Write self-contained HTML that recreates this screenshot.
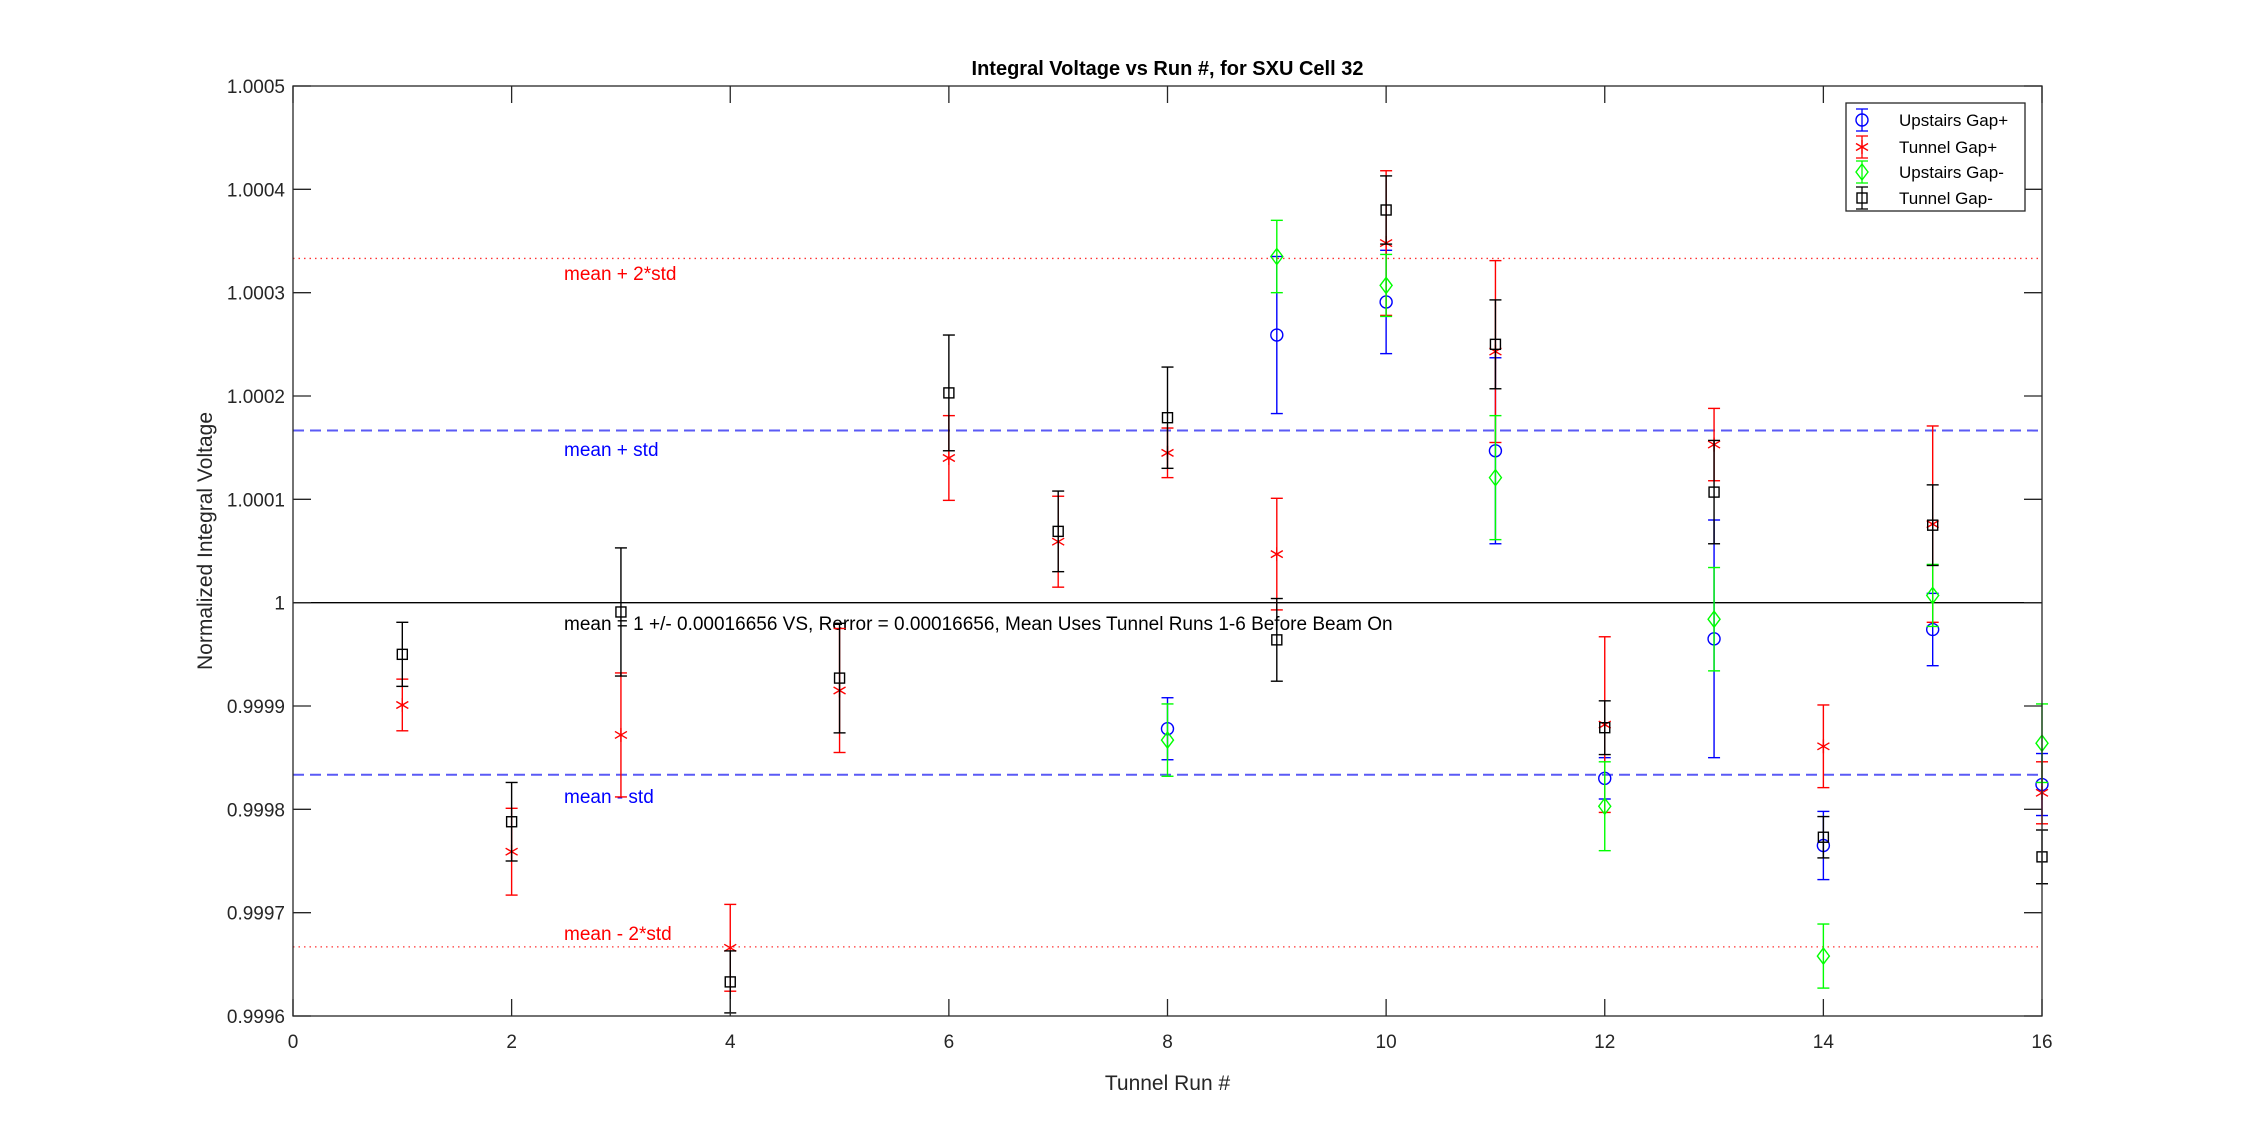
<!DOCTYPE html>
<html><head><meta charset="utf-8"><style>
body{margin:0;background:#fff;}
svg{display:block;font-family:"Liberation Sans",Arial,sans-serif;}
</style></head><body>
<svg id="chart" width="2258" height="1143" viewBox="0 0 2258 1143" xmlns="http://www.w3.org/2000/svg">
<rect width="2258" height="1143" fill="#fff"/>
<g id="grid"></g>
<g id="marks"></g>
<g id="axes"></g>
</svg>
<script>
const runs=[1,2,3,4,5,6,7,8,9,10,11,12,13,14,15,16];
const xTicks=[0,2,4,6,8,10,12,14,16];
const yTicks=[0.9996,0.9997,0.9998,0.9999,1,1.0001,1.0002,1.0003,1.0004,1.0005];
const yTickLabels=["0.9996","0.9997","0.9998","0.9999","1","1.0001","1.0002","1.0003","1.0004","1.0005"];
// values in units of 1e-4 relative to 1
const upPlusX=[8,9,10,11,12,13,14,15,16];
const upPlusV=[-1.22,2.59,2.91,1.47,-1.70,-0.35,-2.35,-0.26,-1.76];
const upPlusE=[0.30,0.76,0.50,0.90,0.20,1.15,0.33,0.35,0.30];
const tunPlusV=[-0.99,-2.41,-1.28,-3.34,-0.85,1.40,0.59,1.45,0.47,3.48,2.43,-1.18,1.53,-1.39,0.76,-1.84];
const tunPlusE=[0.25,0.42,0.60,0.42,0.60,0.41,0.44,0.24,0.54,0.70,0.88,0.85,0.35,0.40,0.95,0.30];
const upMinusX=[8,9,10,11,12,13,14,15,16];
const upMinusV=[-1.33,3.35,3.07,1.21,-1.97,-0.16,-3.42,0.07,-1.36];
const upMinusE=[0.35,0.35,0.30,0.60,0.43,0.50,0.31,0.30,0.38];
const tunMinusV=[-0.50,-2.12,-0.09,-3.67,-0.73,2.03,0.69,1.79,-0.36,3.80,2.50,-1.21,1.07,-2.27,0.75,-2.46];
const tunMinusE=[0.31,0.38,0.62,0.30,0.53,0.56,0.39,0.49,0.40,0.33,0.43,0.26,0.50,0.20,0.39,0.26];
const stdV=1.6656;

const L=293,R=2042,T=86,B=1016;
const X=v=>L+(v-0)/(16-0)*(R-L);
const Y=v=>B-(v-0.9996)/(1.0005-0.9996)*(B-T);
const Yd=d=>Y(1+d*1e-4);
const NS="http://www.w3.org/2000/svg";
function mk(tag,attrs,parent){const e=document.createElementNS(NS,tag);for(const k in attrs)e.setAttribute(k,attrs[k]);parent.appendChild(e);return e;}
const grid=document.getElementById('grid'),marks=document.getElementById('marks'),axes=document.getElementById('axes');

let ln=mk('line',{x1:L,x2:R,y1:Yd(0),y2:Yd(0),stroke:'#000','stroke-width':1.3},grid);

[[1,'mean-plus-std-line'],[-1,'mean-minus-std-line']].forEach(([s,n])=>{
 const l=mk('line',{x1:L,x2:R,y1:Yd(s*stdV),y2:Yd(s*stdV),stroke:'#5a5af5','stroke-width':2,'stroke-dasharray':'11,6'},grid);
 });
[[2,'mean-plus-2std-line'],[-2,'mean-minus-2std-line']].forEach(([s,n])=>{
 const l=mk('line',{x1:L,x2:R,y1:Yd(s*stdV),y2:Yd(s*stdV),stroke:'#f33','stroke-width':1.3,'stroke-dasharray':'1.5,4'},grid);
 });
const labs=[['mean + 2*std','#f00',280,'label-mean-plus-2std'],['mean + std','#00f',456,'label-mean-plus-std'],
 ['mean - std','#00f',803,'label-mean-minus-std'],['mean - 2*std','#f00',940,'label-mean-minus-2std'],
 ['mean = 1 +/- 0.00016656 VS, Rerror = 0.00016656, Mean Uses Tunnel Runs 1-6 Before Beam On','#000',630,'label-mean-summary']];
labs.forEach(([t,c,y,n])=>{const e=mk('text',{x:564,y:y,fill:c,'font-size':19},grid);e.textContent=t;
 });

function marker(type,cx,cy,color,parent){
 const g=mk('g',{stroke:color,fill:'none','stroke-width':1.4},parent);
 if(type==='o')mk('circle',{cx:cx,cy:cy,r:6},g);
 else if(type==='*'){[[0,7],[6,3.5],[6,-3.5]].forEach(([dx,dy])=>mk('line',{x1:cx-dx,y1:cy-dy,x2:cx+dx,y2:cy+dy},g));}
 else if(type==='d')mk('polygon',{points:`${cx},${cy-8} ${cx+6},${cy} ${cx},${cy+8} ${cx-6},${cy}`},g);
 else mk('rect',{x:cx-5,y:cy-5,width:10,height:10},g);
 return g;}
function series(xs,vs,es,type,color,name){
 const g=mk('g',{},marks);
 xs.forEach((x,i)=>{
  const cx=X(x),hi=Yd(vs[i]+es[i]),lo=Yd(vs[i]-es[i]);
  const eb=mk('g',{stroke:color,'stroke-width':1.4},g);
  
  mk('line',{x1:cx,x2:cx,y1:hi,y2:lo},eb);
  mk('line',{x1:cx-6,x2:cx+6,y1:hi,y2:hi},eb);
  mk('line',{x1:cx-6,x2:cx+6,y1:lo,y2:lo},eb);
  const m=marker(type,cx,Yd(vs[i]),color,g);
  
 });}
series(upPlusX,upPlusV,upPlusE,'o','#0000ff','upstairs-gap-plus');
series(runs,tunPlusV,tunPlusE,'*','#ff0000','tunnel-gap-plus');
series(upMinusX,upMinusV,upMinusE,'d','#00ff00','upstairs-gap-minus');
series(runs,tunMinusV,tunMinusE,'s','#000000','tunnel-gap-minus');

const box=mk('rect',{x:L,y:T,width:R-L,height:B-T,fill:'none',stroke:'#262626','stroke-width':1.3},axes);

xTicks.forEach(t=>{const x=X(t);mk('line',{x1:x,x2:x,y1:B,y2:B-17,stroke:'#262626','stroke-width':1.3},axes);mk('line',{x1:x,x2:x,y1:T,y2:T+17,stroke:'#262626','stroke-width':1.3},axes);
 const e=mk('text',{x:x,y:B+32,'text-anchor':'middle','font-size':19,fill:'#262626'},axes);e.textContent=t;
 });
yTicks.forEach((t,i)=>{const y=Y(t);mk('line',{x1:L,x2:L+18,y1:y,y2:y,stroke:'#262626','stroke-width':1.3},axes);mk('line',{x1:R,x2:R-18,y1:y,y2:y,stroke:'#262626','stroke-width':1.3},axes);
 const e=mk('text',{x:L-8,y:y+7,'text-anchor':'end','font-size':19,fill:'#262626'},axes);e.textContent=yTickLabels[i];
 });
let e=mk('text',{x:(L+R)/2,y:75,'text-anchor':'middle','font-size':20,'font-weight':'bold',fill:'#000'},axes);e.textContent='Integral Voltage vs Run #, for SXU Cell 32';

e=mk('text',{x:(L+R)/2,y:1090,'text-anchor':'middle','font-size':21,fill:'#262626'},axes);e.textContent='Tunnel Run #';

e=mk('text',{x:0,y:0,'text-anchor':'middle','font-size':21,fill:'#262626',transform:`translate(212,${(T+B)/2-10}) rotate(-90)`},axes);e.textContent='Normalized Integral Voltage';


const lg=mk('g',{},axes);
mk('rect',{x:1846,y:103,width:179,height:108,fill:'#fff',stroke:'#262626','stroke-width':1.3},lg);
[['Upstairs Gap+','o','#0000ff',120],['Tunnel Gap+','*','#ff0000',147],['Upstairs Gap-','d','#00ff00',172],['Tunnel Gap-','s','#000',198]].forEach(([t,ty,c,y])=>{
 const g=mk('g',{},lg);
 const cx=1862;
 mk('line',{x1:cx,x2:cx,y1:y-11,y2:y+11,stroke:c,'stroke-width':1.3},g);
 mk('line',{x1:cx-6,x2:cx+6,y1:y-11,y2:y-11,stroke:c,'stroke-width':1.3},g);
 mk('line',{x1:cx-6,x2:cx+6,y1:y+11,y2:y+11,stroke:c,'stroke-width':1.3},g);
 marker(ty,cx,y,c,g);
 const tx=mk('text',{x:1899,y:y+6,'font-size':17,fill:'#000'},g);tx.textContent=t;});
</script>
</body></html>
